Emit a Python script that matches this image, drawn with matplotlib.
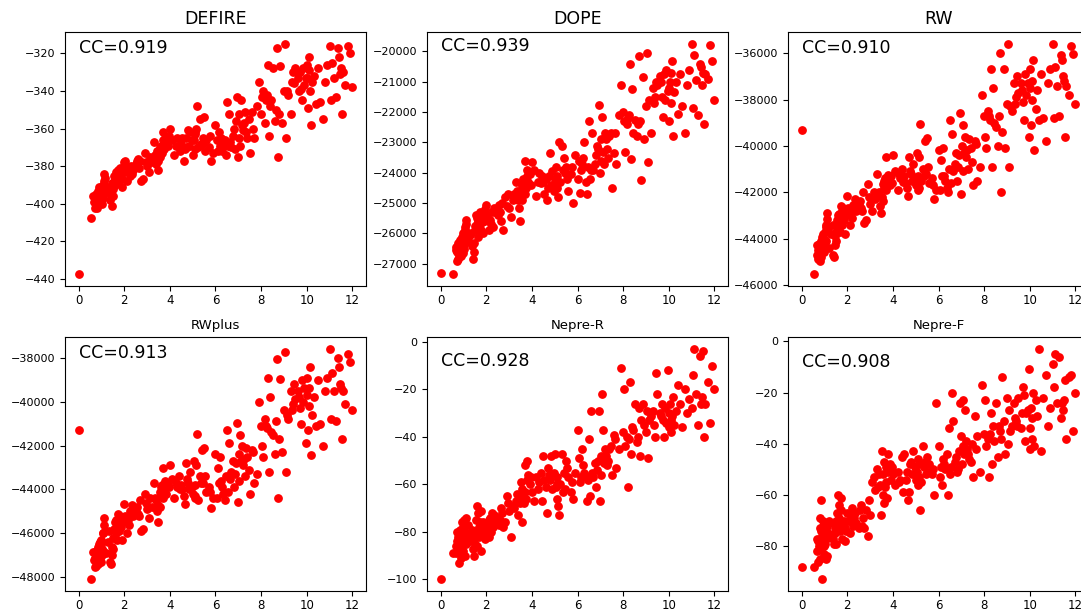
import matplotlib.pyplot as plt

# 横轴（共享）与六个打分函数的纵轴数值
x_rmsd = [
    0.0, 0.52,
    0.65, 0.7, 0.72, 0.75, 0.78, 0.8, 0.82, 0.85, 0.86, 0.88, 0.9, 0.92, 0.93, 0.95, 0.97, 0.98, 1.0, 1.02, 1.03, 1.05, 1.08, 1.1, 1.12, 1.15,
    1.3, 1.38, 1.42, 1.45, 1.48, 1.5, 1.55, 1.58, 1.6, 1.62, 1.65, 1.68, 1.7, 1.75, 1.78, 1.8, 1.85, 1.9, 1.95, 2.0,
    2.05, 2.1, 2.15, 2.2, 2.25, 2.3, 2.4, 2.5, 2.6, 2.7, 2.75, 2.8, 2.9, 3.0,
    3.1, 3.2, 3.3, 3.4, 3.45, 3.48, 3.5, 3.55, 3.58, 3.6, 3.65, 3.68, 3.7, 3.75, 3.8, 3.85, 3.9, 4.0,
    4.1, 4.2, 4.3, 4.4, 4.45, 4.5, 4.6, 4.65, 4.7, 4.8, 4.85, 4.9, 4.95, 5.0,
    5.05, 5.1, 5.12, 5.15, 5.2, 5.25, 5.3, 5.4, 5.45, 5.5, 5.6, 5.7, 5.8, 5.9, 6.0,
    6.05, 6.1, 6.15, 6.2, 6.3, 6.4, 6.45, 6.5, 6.55, 6.6, 6.65, 6.7, 6.8, 6.9, 6.95, 7.0,
    7.02, 7.05, 7.08, 7.1, 7.15, 7.2, 7.3, 7.4, 7.5, 7.6, 7.7, 7.8, 7.9, 8.0,
    8.05, 8.1, 8.15, 8.2, 8.3, 8.35, 8.4, 8.5, 8.6, 8.7, 8.75, 8.8, 8.85, 8.9, 9.0,
    9.05, 9.1, 9.2, 9.3, 9.4, 9.45, 9.5, 9.6, 9.7, 9.75, 9.8, 9.85, 9.9, 9.95, 10.0,
    10.02, 10.05, 10.08, 10.1, 10.15, 10.2, 10.25, 10.3, 10.4, 10.5, 10.6, 10.7, 10.8, 10.9, 11.0,
    11.05, 11.1, 11.2, 11.3, 11.35, 11.4, 11.45, 11.5, 11.55, 11.6, 11.7, 11.8, 11.9, 12.0,
    0.68, 0.83, 0.96, 1.06, 1.2, 1.35, 1.52, 1.72, 1.88, 2.12, 2.35, 2.55, 2.65, 2.95, 3.15, 3.35, 3.62, 3.78, 3.95, 4.25,
    4.55, 4.75, 5.08, 5.35, 5.55, 5.75, 6.25, 6.35, 6.75, 6.85, 7.25, 7.35, 7.45, 7.65, 8.25, 8.45, 8.65, 9.15, 9.35, 9.65,
]

y_defire = [
    -437.5, -407.5,
    -396, -402, -398, -395, -400, -402, -397, -393, -399, -395, -391, -397, -394, -392, -399, -396, -393, -400, -395, -397, -392, -388, -384, -386,
    -392, -398, -395, -401, -389, -392, -385, -390, -387, -383, -389, -385, -386, -383, -388, -381, -385, -391, -383, -378,
    -377, -388, -383, -381, -385, -380, -382, -379, -376, -377, -388, -387, -373, -380,
    -383, -378, -367, -379, -372, -382, -377, -370, -375, -369, -373, -366, -362, -371, -365, -368, -369, -360,
    -366, -374, -365, -369, -372, -368, -377, -371, -365, -361, -369, -362, -366, -374,
    -366, -371, -363, -360, -348, -370, -355, -368, -365, -354, -366, -370, -377, -373, -358,
    -366, -372, -362, -369, -372, -366, -374, -346, -369, -352, -367, -370, -360, -356, -343, -375,
    -365, -352, -369, -345, -358, -361, -351, -365, -373, -351, -365, -348, -335, -352,
    -343, -340, -357, -345, -326, -364, -348, -328, -356, -317, -375, -352, -327, -357, -340,
    -315, -365, -342, -352, -330, -336, -328, -333, -330, -339, -345, -328, -337, -333, -326,
    -333, -349, -329, -322, -340, -358, -335, -332, -347, -328, -346, -355, -335, -326, -316,
    -345, -325, -333, -343, -317, -322, -331, -328, -352, -330, -337, -316, -320, -338,
    -399, -395, -398, -390, -394, -391, -396, -382, -387, -380, -384, -377, -381, -378, -375, -374, -372, -367, -364, -369,
    -365, -370, -362, -368, -372, -364, -365, -368, -364, -371, -357, -362, -355, -360, -342, -345, -350, -340, -335, -340,
]

y_dope = [
    -27300, -27350,
    -26450, -26900, -26600, -26300, -26850, -26500, -26700, -26200, -26600, -26400, -26750, -26300, -26500, -26100, -26650, -26350, -26000, -26500, -26200, -25900, -26300, -25700, -25550, -26000,
    -26050, -26400, -26850, -26600, -26300, -25900, -25400, -25700, -25500, -26100, -25600, -25850, -25500, -25650, -25900, -25450, -26000, -25600, -25200, -25050,
    -25400, -25900, -25550, -25700, -25300, -25800, -25300, -25400, -25300, -25000, -25900, -24800, -25100, -25150,
    -25450, -24700, -24300, -24900, -25150, -25600, -24700, -24450, -24900, -24550, -24300, -24700, -23600, -24500, -24100, -24300, -24050, -23650,
    -23900, -24750, -24000, -24350, -24100, -24300, -24200, -24900, -24500, -23350, -24400, -23950, -24600, -24200,
    -23800, -24100, -24500, -24800, -23000, -24300, -23100, -23500, -24000, -23800, -24600, -24050, -25000, -23400, -24200,
    -23600, -24650, -23900, -23700, -23000, -24700, -23800, -22300, -24200, -23900, -22700, -23900, -23400, -23200, -21750, -24000,
    -22900, -23600, -22150, -23300, -23700, -22700, -23200, -22800, -24500, -23350, -23700, -22100, -21100, -22000,
    -22300, -23300, -22400, -22200, -20400, -23550, -21250, -22250, -22800, -20150, -22300, -24250, -20850, -22900, -21800,
    -20050, -23650, -22700, -21200, -21500, -21000, -21100, -20800, -21500, -22150, -20750, -21600, -20600, -21300, -21200,
    -22300, -21000, -20700, -21700, -20300, -22800, -21350, -21000, -22050, -20750, -21800, -22700, -21100, -20600, -19750,
    -21850, -20100, -20950, -22100, -20400, -20500, -21100, -20700, -22400, -20750, -20900, -19800, -20300, -21600,
    -26550, -26350, -26150, -25800, -26200, -26000, -25750, -25300, -25600, -25600, -25150, -25050, -25600, -24700, -24900, -24600, -24200, -23900, -24400, -24300,
    -24700, -24100, -24300, -23900, -24200, -23800, -23500, -24300, -23700, -23100, -22900, -23500, -22700, -22700, -22100, -22700, -22400, -21600, -21700, -21000,
]

y_rw = [
    -39300, -45550,
    -44300, -44900, -44500, -44250, -44950, -44600, -44300, -44100, -44800, -44400, -43950, -44500, -44150, -43800, -44600, -44300, -43700, -44400, -44050, -43400, -44100, -43150, -42900, -43600,
    -43800, -44700, -44800, -44300, -43900, -44100, -43200, -43600, -43000, -43500, -42950, -43700, -43100, -42800, -43400, -42700, -43200, -43800, -43000, -42150,
    -42700, -43400, -42900, -43100, -42550, -42600, -42800, -42500, -42700, -42000, -43350, -43200, -41650, -42500,
    -42800, -42300, -41200, -42000, -42600, -42900, -42200, -41650, -42400, -41800, -41400, -41900, -40500, -41600, -41250, -41700, -41300, -40400,
    -41100, -41900, -41400, -41000, -41550, -41300, -41800, -42150, -40500, -41200, -41500, -40800, -41400, -41700,
    -40300, -41300, -41800, -40500, -39050, -41500, -41000, -39800, -41200, -39650, -41600, -41400, -42300, -41900, -40200,
    -41900, -40600, -41300, -40100, -41500, -42000, -41000, -38900, -41600, -39500, -41100, -40800, -41500, -40400, -38600, -42100,
    -40000, -41100, -39100, -40300, -39600, -40500, -41000, -40100, -41700, -39800, -41500, -40900, -37800, -38700,
    -39600, -40100, -38500, -38700, -36700, -40900, -37500, -39200, -40000, -36000, -42000, -39400, -36700, -40100, -38200,
    -35600, -40900, -38500, -37300, -37900, -37000, -37700, -37300, -38100, -38900, -36900, -37800, -37300, -39600, -36700,
    -37500, -39100, -37200, -38000, -36300, -40200, -38400, -37600, -38900, -36900, -38800, -39800, -37300, -36700, -35600,
    -38800, -36600, -37400, -38700, -36100, -36300, -37000, -37200, -39600, -37400, -37800, -35700, -36050, -38200,
    -44700, -44200, -44000, -43500, -44400, -43400, -43700, -42600, -42900, -43000, -42300, -42400, -42800, -42200, -42000, -42100, -41500, -41300, -41600, -41200,
    -41600, -41100, -41900, -41300, -40900, -41700, -41300, -41800, -40300, -40900, -40200, -39700, -40700, -39900, -38900, -39000, -38700, -38300, -38200, -37600,
]

y_rwplus = [
    -41300, -48100,
    -46850, -47550, -47100, -46800, -47500, -47200, -46900, -46600, -47400, -47000, -46500, -47200, -46800, -46400, -47300, -46900, -46300, -47000, -46700, -46000, -46800, -45600, -45300, -45900,
    -46400, -47300, -47400, -47000, -46600, -46700, -45800, -46200, -45500, -46000, -45400, -46300, -45700, -45300, -45900, -45200, -45700, -46300, -45500, -44650,
    -45200, -46000, -45400, -45600, -45000, -45100, -45200, -45000, -45100, -44500, -45900, -45800, -44200, -44900,
    -45300, -44800, -43700, -44500, -45000, -45500, -44700, -44100, -44800, -44200, -43800, -44400, -43000, -44000, -43700, -44200, -43800, -42900,
    -43500, -44400, -43900, -43400, -44000, -43800, -44300, -44650, -42800, -43700, -44000, -43200, -43900, -44200,
    -42700, -43800, -44300, -42900, -41450, -44500, -43400, -42200, -43700, -42100, -44100, -43900, -44850, -44400, -42400,
    -44400, -43000, -43700, -42500, -43900, -44500, -43400, -41300, -44100, -41900, -43500, -43200, -43900, -42800, -40950, -44550,
    -42400, -43600, -41500, -42700, -42000, -42900, -43400, -42500, -44200, -42200, -43700, -43300, -40000, -41100,
    -42000, -42500, -40800, -41100, -38900, -43200, -39800, -41500, -42400, -38050, -44400, -41700, -38950, -42300, -40400,
    -37750, -43200, -40800, -39500, -40100, -39200, -39900, -39500, -40300, -41000, -39000, -40000, -39400, -41900, -38900,
    -39700, -41300, -39400, -40200, -38400, -42450, -40600, -39800, -41100, -39000, -41000, -42000, -39500, -38900, -37600,
    -40800, -38700, -39500, -40900, -38000, -38400, -39200, -39400, -41700, -39500, -40100, -37850, -38200, -40400,
    -47200, -46700, -46500, -46000, -46900, -45900, -46200, -45100, -45400, -45500, -44700, -44800, -45200, -44600, -44400, -44400, -43900, -43600, -43900, -43700,
    -44000, -43500, -44400, -43700, -43400, -44100, -43600, -44200, -42700, -43300, -42600, -42100, -43100, -42300, -41200, -41400, -40900, -40600, -40400, -39800,
]

y_nepre_r = [
    -100, -89,
    -89, -80, -84, -87, -82, -93, -85, -79, -88, -83, -91, -76, -86, -81, -84, -78, -88, -82, -75, -90, -80, -74, -85, -81,
    -84, -79, -87, -90, -83, -80, -75, -86, -69, -79, -72, -82, -78, -71, -88, -80, -76, -81, -83, -79,
    -77, -82, -74, -80, -72, -78, -76, -74, -75, -72, -78, -76, -65, -71,
    -82, -70, -67, -73, -65, -68, -59, -76, -62, -66, -68, -63, -52, -66, -50, -56, -60, -63,
    -67, -57, -59, -55, -67, -48, -61, -72, -53, -58, -48, -62, -55, -47,
    -61, -57, -66, -69, -73, -60, -47, -55, -62, -50, -57, -63, -66, -55, -37,
    -49, -59, -57, -45, -55, -67, -58, -41, -65, -29, -55, -57, -61, -50, -29, -67,
    -48, -56, -22, -37, -51, -45, -52, -45, -56, -39, -53, -45, -11, -38,
    -20, -44, -40, -61, -17, -47, -36, -26, -42, -28, -48, -33, -26, -35, -38,
    -29, -49, -31, -29, -40, -13, -22, -30, -26, -33, -40, -28, -34, -12, -30,
    -36, -26, -33, -38, -31, -23, -35, -29, -18, -26, -36, -20, -30, -24, -28,
    -14, -3, -22, -35, -6, -26, -23, -4, -40, -26, -17, -34, -10, -20,
    -86, -83, -79, -84, -77, -82, -85, -76, -79, -75, -73, -77, -70, -68, -69, -64, -65, -58, -57, -62,
    -58, -56, -60, -63, -53, -59, -52, -57, -51, -54, -48, -50, -44, -41, -41, -37, -40, -33, -35, -31,
]

y_nepre_f = [
    -88, -88,
    -77, -86, -78, -80, -73, -85, -69, -62, -81, -76, -93, -72, -78, -70, -75, -83, -74, -79, -71, -85, -77, -72, -84, -75,
    -76, -71, -79, -73, -75, -79, -67, -72, -60, -69, -64, -74, -61, -71, -77, -72, -70, -78, -74, -67,
    -70, -75, -68, -65, -72, -69, -71, -73, -64, -69, -73, -66, -76, -68,
    -55, -58, -50, -52, -56, -68, -43, -60, -52, -63, -57, -49, -55, -61, -44, -48, -54, -52,
    -56, -51, -54, -45, -59, -44, -51, -62, -59, -47, -52, -43, -49, -54,
    -51, -56, -48, -53, -66, -55, -41, -47, -52, -45, -48, -52, -60, -24, -41,
    -53, -49, -56, -46, -50, -60, -34, -52, -49, -20, -31, -47, -51, -43, -24, -37,
    -48, -41, -23, -44, -27, -39, -44, -47, -53, -29, -37, -51, -17, -36,
    -23, -41, -38, -53, -28, -48, -33, -24, -45, -35, -38, -14, -31, -44, -22,
    -40, -27, -33, -24, -31, -33, -22, -34, -18, -21, -39, -28, -27, -11, -34,
    -42, -26, -30, -38, -20, -41, -23, -29, -3, -43, -22, -13, -33, -26, -9,
    -18, -5, -24, -6, -30, -24, -27, -23, -15, -38, -14, -13, -35, -20,
    -82, -74, -80, -73, -70, -77, -70, -66, -73, -70, -67, -66, -72, -62, -53, -57, -47, -51, -49, -55,
    -54, -48, -46, -49, -51, -50, -48, -44, -45, -50, -42, -46, -40, -42, -36, -39, -33, -35, -30, -28,
]

titles = ['DEFIRE', 'DOPE', 'RW', 'RWplus', 'Nepre-R', 'Nepre-F']
cc_values = [0.919, 0.939, 0.910, 0.913, 0.928, 0.908]
series = [y_defire, y_dope, y_rw, y_rwplus, y_nepre_r, y_nepre_f]

# 每个子图左上角 CC 文本的基线位置（数据坐标）
cc_anchor_y = [-320, -20000, -36000, -38000, -10, -10]

fig = plt.figure(figsize=(10.81, 6.11), dpi=100)

# 子图位置：最右一列略超出画布，与原图一致
lefts = [0.0601, 0.395, 0.729]
bottoms = [0.532, 0.0327]
w, h = 0.2785, 0.4150

for i, (name, ys) in enumerate(zip(titles, series)):
    assert len(ys) == len(x_rmsd), name
    row, col = divmod(i, 3)
    ax = fig.add_axes([lefts[col], bottoms[row], w, h])
    ax.scatter(x_rmsd, ys, s=28, c='red')
    ax.set_title(name, fontsize=12.5 if row == 0 else 9.5)
    ax.text(0, cc_anchor_y[i], f'CC={cc_values[i]:.3f}', fontsize=12.5)
    ax.tick_params(axis='x', labelsize=8.5, pad=2.5)
    ax.tick_params(axis='y', labelsize=8)

fig.savefig('out.png', dpi=100)
